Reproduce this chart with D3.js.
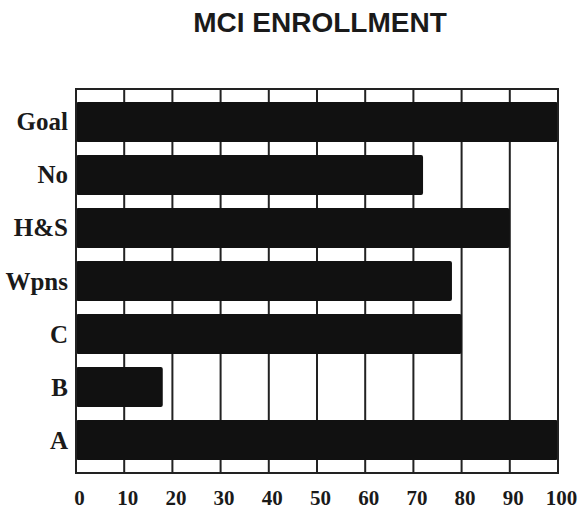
<!DOCTYPE html>
<html>
<head>
<meta charset="utf-8">
<script src="https://cdn.jsdelivr.net/npm/d3@7"></script>
<style>
  body { margin: 0; background: #fff; }
  .cat text { font-family: "Liberation Serif", "Times New Roman", serif; font-weight: bold; font-size: 25px; fill: #1a1a1a; }
  .xlab text { font-family: "Liberation Serif", "Times New Roman", serif; font-weight: bold; font-size: 21px; fill: #1a1a1a; }
  .title { font-family: "Liberation Sans", Arial, sans-serif; font-weight: bold; font-size: 28px; fill: #1a1a1a; }
</style>
</head>
<body>
<svg id="chart" width="582" height="510"></svg>
<script>
// chart data
var categories = ["Goal", "No", "H&S", "Wpns", "C", "B", "A"];
var values = [100, 72, 90, 78, 80, 18, 100];
var xTicks = [0, 10, 20, 30, 40, 50, 60, 70, 80, 90, 100];

var margin = {top: 89, right: 24, bottom: 37, left: 76},
    width = 582 - margin.left - margin.right,
    height = 510 - margin.top - margin.bottom;

var svg = d3.select("#chart");

svg.append("text")
    .attr("class", "title")
    .attr("x", 320)
    .attr("y", 32)
    .attr("text-anchor", "middle")
    .text("MCI ENROLLMENT");

var g = svg.append("g")
    .attr("transform", "translate(" + margin.left + "," + margin.top + ")");

var x = d3.scaleLinear().domain([0, 100]).range([0, width]);
var y = d3.scaleBand()
    .domain(categories)
    .range([0, height])
    .paddingInner(0.245)
    .paddingOuter(0.245);

// vertical grid lines (behind bars)
g.selectAll(".grid")
    .data(xTicks)
    .enter().append("line")
    .attr("class", "grid")
    .attr("x1", function(d) { return x(d); })
    .attr("x2", function(d) { return x(d); })
    .attr("y1", 0)
    .attr("y2", height)
    .style("stroke", "#222")
    .style("stroke-width", 2);

// bars
g.selectAll(".bar")
    .data(values)
    .enter().append("rect")
    .attr("class", "bar")
    .attr("x", x(0))
    .attr("y", function(d, i) { return y(categories[i]); })
    .attr("width", function(d) { return x(d) - x(0); })
    .attr("height", y.bandwidth())
    .attr("rx", 2)
    .style("fill", "#111");

// frame
g.append("rect")
    .attr("x", 0)
    .attr("y", 0)
    .attr("width", width)
    .attr("height", height)
    .style("fill", "none")
    .style("stroke", "#222")
    .style("stroke-width", 2);

// category labels
var yAxis = d3.axisLeft(y).tickSize(0).tickPadding(8);
g.append("g")
    .attr("class", "cat")
    .call(yAxis)
    .call(function(a) { a.select(".domain").remove(); })
    .selectAll("text")
    .attr("dy", "0.34em");

// bottom tick labels
var xAxis = d3.axisBottom(x).tickValues(xTicks).tickSize(0).tickPadding(17);
g.append("g")
    .attr("class", "xlab")
    .attr("transform", "translate(0," + height + ")")
    .call(xAxis)
    .call(function(a) { a.select(".domain").remove(); })
    .selectAll("text")
    .attr("dx", "3");
</script>
</body>
</html>
